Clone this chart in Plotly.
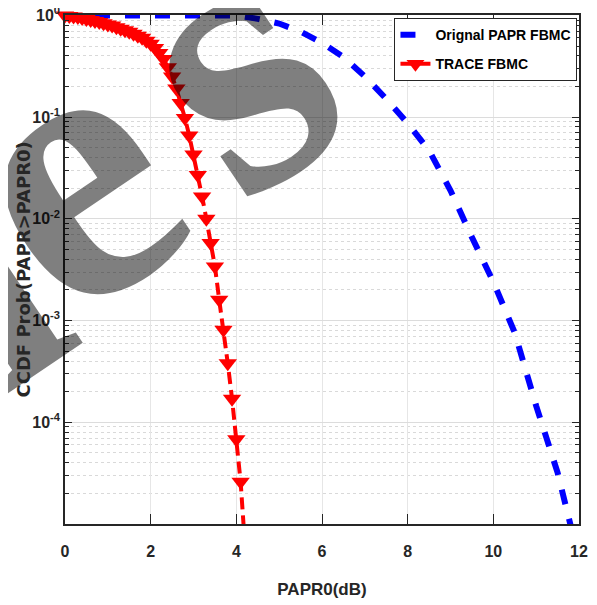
import plotly.graph_objects as go

# ---- data ----
trace_x = [round(0.1 * k, 1) for k in range(43)]
trace_ccdf = [1.0, 0.989, 0.977, 0.962, 0.944, 0.923, 0.902, 0.881, 0.861, 0.838,
              0.813, 0.794, 0.767, 0.741, 0.716, 0.692, 0.661, 0.631, 0.603, 0.562,
              0.525, 0.479, 0.427, 0.372, 0.309, 0.251, 0.191, 0.138, 0.098, 0.066,
              0.043, 0.027, 0.0166, 0.0100, 0.0058, 0.0034, 0.0016, 8.1e-4, 3.8e-4,
              1.7e-4, 6.8e-5, 2.6e-5, 6.3e-6]

orig_x = [0, 0.5, 1, 1.5, 2, 2.5, 3, 3.5, 4, 4.5, 5, 5.5, 6, 6.5, 7, 7.5, 8,
          8.5, 9, 9.5, 10, 10.5, 11, 11.5, 12]
orig_ccdf = [1.0, 1.0, 1.0, 1.0, 1.0, 1.0, 1.0, 1.0, 0.998, 0.925, 0.832, 0.692,
             0.537, 0.389, 0.251, 0.151, 0.087, 0.047, 0.019, 0.0066, 0.0024,
             7.6e-4, 1.45e-4, 3.2e-5, 4.5e-6]

series_names = ["Orignal PAPR FBMC", "TRACE FBMC"]
x_ticks = [0, 2, 4, 6, 8, 10, 12]
y_ticks = [1e-4, 1e-3, 1e-2, 1e-1, 1]
y_ticktext = ["10<sup>-4</sup>", "10<sup>-3</sup>", "10<sup>-2</sup>", "10<sup>-1</sup>", "10<sup>0</sup>"]
y_title = "CCDF Prob(PAPR>PAPR0)"
x_title = "PAPR0(dB)"
watermark_letters = ["i", "e", "s"]

FONT = "Liberation Sans Narrow, Arial Narrow, Liberation Sans, Arial, sans-serif"
DARK = "#262626"

# page body has an 8px margin, so the figure is 8px smaller than the window
W, H = 589, 597
L, R, T, B = 57, 18, 7, 81
PW, PH = W - L - R, H - T - B


def px_to_paper(sx, sy):
    # screen pixel (window coords) -> paper fraction
    return (sx - 8 - L) / PW, (H - B - (sy - 8)) / PH


fig = go.Figure()
fig.add_trace(go.Scatter(
    x=orig_x, y=orig_ccdf, mode="lines", name=series_names[0], legendgroup="a",
    line=dict(color="#0000ff", width=6, dash="15px,15px"),
))
sizes = [16] * (len(trace_x) - 1) + [0]
fig.add_trace(go.Scatter(
    x=trace_x, y=trace_ccdf, mode="lines+markers", name=series_names[1], legendgroup="b",
    line=dict(color="#ff0000", width=4, dash="12px,6px"),
    marker=dict(symbol="triangle-down", size=sizes, color="#ff0000", opacity=1,
                line=dict(width=0)),
    cliponaxis=False,
))

minor_vals = [m * 10 ** e for e in range(-5, 0) for m in range(2, 10)]

# watermark letters (screen positions of each glyph box centre)
wm_pos = [(-30, 262), (64, 172), (230, 58)]
for letter, (sx, sy) in zip(watermark_letters, wm_pos):
    wx, wy = px_to_paper(sx, sy)
    fig.add_annotation(
        text=letter, xref="paper", yref="paper", x=wx, y=wy,
        xanchor="center", yanchor="middle", showarrow=False, textangle=-34,
        font=dict(family="Liberation Serif, Times New Roman, serif", size=385,
                  color="rgba(0,0,0,0.5)"),
    )

fig.add_annotation(
    text=y_title, xref="paper", yref="paper", x=0, y=0.5, xshift=-42,
    xanchor="center", yanchor="middle", showarrow=False, textangle=-90,
    font=dict(family="DejaVu Sans, Liberation Sans, sans-serif", size=18,
              color=DARK, weight="bold"),
)

fig.update_layout(
    width=W, height=H,
    margin=dict(l=L, r=R, t=T, b=B, autoexpand=False),
    paper_bgcolor="white", plot_bgcolor="white",
    font=dict(family=FONT, color=DARK, size=15, weight="bold"),
    showlegend=True,
    legend=dict(
        x=0.997, xanchor="right", y=0.994, yanchor="top",
        bgcolor="white", bordercolor=DARK, borderwidth=1,
        font=dict(family=FONT, size=14, color="black", weight="bold"),
        itemwidth=30, tracegroupgap=8, traceorder="grouped",
    ),
    xaxis=dict(
        range=[0, 12], tickvals=x_ticks, ticks="inside", ticklen=10, tickwidth=1,
        tickcolor=DARK, showline=True, linecolor=DARK, linewidth=1.5, mirror="allticks",
        showgrid=True, gridcolor="#e6e6e6", gridwidth=1, zeroline=False,
        automargin=False, ticklabelstandoff=12, ticklabeloverflow="allow",
        tickfont=dict(size=16, family=FONT, color=DARK, weight="bold"),
        title=dict(text=x_title, standoff=24,
                   font=dict(size=17, family=FONT, color=DARK, weight="bold")),
    ),
    yaxis=dict(
        type="log", range=[-5, 0.004], tickvals=y_ticks, ticktext=y_ticktext,
        ticks="inside", ticklen=7, tickwidth=1, tickcolor=DARK,
        showline=True, linecolor=DARK, linewidth=1.5, mirror="allticks",
        showgrid=True, gridcolor="#dcdcdc", gridwidth=1, zeroline=False,
        automargin=False, ticklabeloverflow="allow",
        tickfont=dict(size=16, family=FONT, color=DARK, weight="bold"),
        minor=dict(tickmode="array", tickvals=minor_vals, ticks="inside", ticklen=4,
                   tickcolor=DARK, showgrid=True, gridcolor="#d9d9d9", griddash="dot",
                   gridwidth=1),
    ),
)

fig.write_html("out.html")
